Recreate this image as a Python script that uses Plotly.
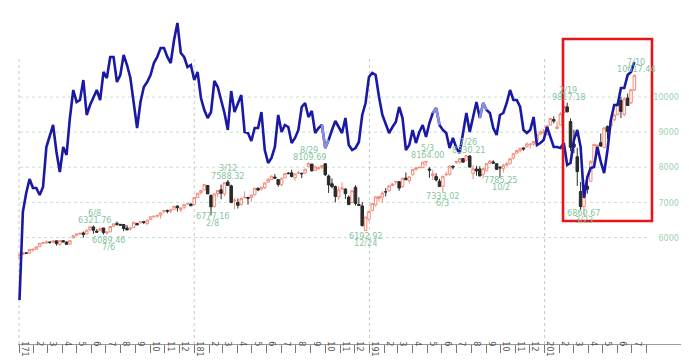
import plotly.graph_objects as go
import pandas as pd

# ---------------- data ----------------
week_start = "2017-01-02"   # weekly bars (week starting Monday)

open_ = [
    5425,5511,5560,5560,5651,5665,5740,5840,5845,5870,5868,5905,5800,5910,5870,5810,5990,6065,6103,6130,
    6100,6215,6300,6180,6195,6270,6130,6160,6320,6400,6375,6370,6270,6240,6285,6400,6420,6450,6400,6510,
    6590,6610,6640,6740,6770,6750,6800,6895,6790,6860,6960,6955,
    6938,7136,7275,7355,7480,7195,6880,7245,7360,7240,7580,7470,7040,7000,6940,7130,7140,7135,7215,7400,
    7380,7420,7575,7650,7720,7650,7505,7700,7830,7840,7700,7830,7830,7840,8020,8090,7910,7950,8000,8100,
    7750,7530,7450,7160,7380,7380,7150,7000,7430,6940,6900,6200,
    6520,6770,6930,7110,7150,7300,7330,7480,7580,7590,7450,7690,7620,7790,7940,7990,7990,8150,7950,7760,
    7740,7600,7460,7790,7800,8030,8140,8150,8250,8200,8320,7820,7950,7950,7800,7900,8110,8150,8100,8000,
    7960,8060,8100,8260,8400,8470,8550,8580,8650,8660,8760,8940,
    8970,8940,9200,9360,9100,9200,9560,9720,9300,8660,8300,7310,6880,7460,7600,8150,8590,8700,8560,9160,
    9180,9350,9500,9900,9500,9970,9840,10200,
]
high = [
    5536,5582,5575,5669,5669,5735,5839,5867,5911,5875,5914,5912,5915,5914,5888,5917,6075,6100,6125,6170,
    6213,6309,6342,6240,6280,6275,6175,6318,6392,6460,6380,6385,6355,6307,6436,6420,6450,6475,6496,6590,
    6611,6650,6708,6765,6795,6810,6890,6914,6855,6937,6995,6965,
    7137,7263,7344,7506,7487,7230,7260,7341,7505,7560,7637,7506,7120,7110,7146,7316,7160,7220,7405,7425,
    7445,7555,7697,7762,7806,7660,7696,7828,7866,7933,7814,7900,7840,7947,8133,8095,8041,8030,8050,8107,
    7790,7680,7480,7457,7570,7400,7200,7353,7486,7145,7010,6585,
    6740,6985,7170,7190,7320,7407,7473,7530,7600,7600,7700,7850,7730,7940,7985,8010,8147,8176,8000,7930,
    7830,7670,7760,7870,8050,8050,8170,8250,8260,8340,8340,8060,8040,8030,7980,8120,8200,8200,8110,8030,
    8100,8150,8250,8390,8480,8541,8570,8705,8670,8750,8930,9050,
    9093,9200,9390,9450,9310,9570,9740,9840,9390,9070,8550,7580,7640,7730,8200,8660,8640,8960,9130,9190,
    9380,9520,9850,10000,10000,10100,10220,10640,
]
low = [
    5410,5507,5532,5544,5590,5655,5730,5815,5825,5822,5845,5769,5770,5854,5805,5792,5985,6036,6071,5996,
    6094,6185,6110,6145,6182,6088,6087,6154,6318,6335,6330,6180,6208,6195,6281,6360,6405,6380,6351,6508,
    6573,6560,6540,6686,6690,6690,6795,6739,6717,6812,6935,6900,
    6924,7131,7223,7339,7240,6630,6855,7144,7090,7178,7463,6992,6805,6825,6910,7120,6937,7012,7195,7320,
    7340,7378,7574,7636,7670,7445,7463,7696,7797,7712,7620,7815,7690,7810,8000,7870,7890,7930,7950,7750,
    7270,7400,7000,7070,7350,7100,6920,6980,6910,6895,6330,6190,
    6457,6740,6880,7020,6980,7170,7300,7460,7500,7330,7420,7640,7530,7760,7900,7960,7970,8030,7700,7640,
    7600,7450,7290,7750,7760,7940,8090,8100,8140,8190,8000,7660,7760,7750,7680,7880,8100,8100,7920,7700,
    7850,8030,8090,8220,8390,8420,8470,8570,8530,8610,8750,8930,
    8940,8900,9190,9250,9090,9190,9540,9560,8460,8400,7470,6770,6630,7250,7580,8080,8440,8580,8540,8800,
    9170,9310,9470,9400,9450,9750,9800,10170,
]
close = [
    5521,5574,5555,5661,5667,5734,5839,5845,5871,5861,5901,5828,5912,5878,5805,5910,6048,6100,6121,6084,
    6210,6306,6208,6152,6265,6140,6153,6312,6388,6374,6352,6256,6217,6265,6435,6360,6448,6427,6496,6590,
    6606,6629,6701,6764,6751,6783,6890,6848,6840,6937,6960,6903,
    7136,7261,7336,7506,7241,6874,7239,7337,7258,7560,7482,6993,7063,6915,7107,7146,7120,7210,7403,7354,
    7434,7554,7646,7746,7692,7510,7689,7826,7821,7737,7812,7839,7816,7946,8110,7903,8010,7987,8046,7788,
    7497,7449,7167,7357,7407,7248,6939,7331,6969,6911,6333,6585,
    6739,6971,7157,7165,7264,7298,7472,7527,7595,7408,7688,7643,7729,7939,7985,7998,8146,8164,7917,7816,
    7637,7453,7742,7797,8032,8006,8162,8244,8146,8330,8004,7959,7896,7751,7963,8103,8176,8118,7940,7982,
    8057,8089,8243,8386,8475,8541,8520,8665,8657,8735,8925,9006,
    9021,9179,9389,9315,9151,9521,9731,9577,8567,8576,7875,6880,7502,7373,8154,8650,8634,8605,9121,9015,
    9325,9490,9815,9589,9946,9757,10208,10617,
]

# comparison series (relative level, no scale shown on the chart)
blue = [
    44,132,151,165,156,156,149,157,197,209,219,192,172,197,189,226,254,242,244,264,
    229,239,247,254,244,272,266,287,287,262,269,289,279,266,241,216,242,257,262,269,
    281,287,296,296,287,281,304,321,291,287,277,279,264,272,246,
    234,226,232,263,257,244,231,214,253,232,241,249,212,211,203,216,216,232,194,181,
    186,197,229,212,219,217,201,206,214,237,241,227,233,211,216,219,196,204,214,223,
    217,211,226,199,194,196,202,229,241,267,271,
    269,247,229,220,211,217,222,237,226,194,199,214,201,212,219,207,221,231,236,219,
    214,211,196,206,196,191,211,231,212,226,242,226,241,234,231,216,209,229,231,241,
    254,244,244,237,214,211,214,227,199,201,204,217,
    207,197,197,196,201,179,181,204,214,197,146,167,176,177,197,182,171,194,224,239,
    239,256,256,269,272,282,
]
blue_faded = [(90, 92), (123, 125), (137, 139)]   # week index ranges drawn lighter

high_dates = ["2017-06-08", "2018-03-12", "2018-08-29", "2019-05-03", "2019-07-26", "2020-02-19", "2020-07-10"]
high_values = [6321.76, 7588.32, 8109.69, 8164.00, 8330.21, 9817.18, 10617.44]
high_labels = ["6/8", "3/12", "8/29", "5/3", "7/26", "2/19", "7/10"]
low_dates = ["2017-07-06", "2018-02-08", "2018-12-24", "2019-06-03", "2019-10-02", "2020-03-23"]
low_values = [6089.46, 6777.16, 6192.92, 7333.02, 7785.25, 6860.67]
low_labels = ["7/6", "2/8", "12/24", "6/3", "10/2", "3/23"]

month_labels = ["171", "2", "3", "4", "5", "6", "7", "8", "9", "10", "11", "12",
                "181", "2", "3", "4", "5", "6", "7", "8", "9", "10", "11", "12",
                "191", "2", "3", "4", "5", "6", "7", "8", "9", "10", "11", "12",
                "201", "2", "3", "4", "5", "6", "7"]
price_ticks = [6000, 7000, 8000, 9000, 10000]
price_labels = ["6000", "7000", "8000", "9000", "10000"]
year_starts = ["2017-01-01", "2018-01-01", "2019-01-01", "2020-01-01"]

# ---------------- figure ----------------
weeks = pd.date_range(week_start, periods=len(close), freq="7D")
month_starts = pd.date_range("2017-01-01", periods=len(month_labels) + 1, freq="MS")
month_mids = [m + pd.Timedelta(days=15) for m in month_starts[:-1]]

FONT = "Liberation Sans Narrow, DejaVu Sans Condensed, Arial Narrow, sans-serif"
GREEN = "#86c4a0"
UP = "#f28a7a"
DOWN = "#2a2a2a"

fig = go.Figure()
fig.add_trace(go.Candlestick(
    x=weeks, open=open_, high=high, low=low, close=close,
    increasing=dict(line=dict(color=UP, width=1), fillcolor="white"),
    decreasing=dict(line=dict(color=DOWN, width=1), fillcolor=DOWN),
    whiskerwidth=0, showlegend=False, hoverinfo="skip",
))
fig.add_trace(go.Scatter(
    x=weeks, y=blue, yaxis="y2", mode="lines",
    line=dict(color="#1919a6", width=2.6), showlegend=False, hoverinfo="skip",
))
for a, b in blue_faded:
    fig.add_trace(go.Scatter(
        x=weeks[a:b + 1], y=blue[a:b + 1], yaxis="y2", mode="lines",
        line=dict(color="#8c8ce0", width=2.6), showlegend=False, hoverinfo="skip",
    ))

shapes = []
for v in price_ticks:
    shapes.append(dict(type="line", xref="paper", yref="y", x0=0.003, x1=0.952, y0=v, y1=v,
                       line=dict(color="#c4e2d2", width=1, dash="dot"), layer="below"))
for d in year_starts:
    shapes.append(dict(type="line", xref="x", yref="y", x0=d, x1=d, y0=2968, y1=11110,
                       line=dict(color="#c8c8c8", width=1, dash="dot"), layer="below"))
shapes.append(dict(type="rect", xref="paper", yref="paper", x0=0.8208, x1=0.9548, y0=0.3661, y1=0.9077,
                   line=dict(color="#e8141c", width=2.6), fillcolor="rgba(0,0,0,0)"))

annotations = []
for d, v, lab in zip(high_dates, high_values, high_labels):
    annotations.append(dict(x=d, y=v, text=f"{v:.2f}", showarrow=False, yshift=6,
                            font=dict(family=FONT, size=9, color=GREEN)))
    annotations.append(dict(x=d, y=v, text=lab, showarrow=False, yshift=13.5,
                            font=dict(family=FONT, size=9, color=GREEN)))
for d, v, lab in zip(low_dates, low_values, low_labels):
    annotations.append(dict(x=d, y=v, text=f"{v:.2f}", showarrow=False, yshift=-5.5,
                            font=dict(family=FONT, size=9, color=GREEN)))
    annotations.append(dict(x=d, y=v, text=lab, showarrow=False, yshift=-12.5,
                            font=dict(family=FONT, size=9, color=GREEN)))

# page body has an 8px margin, so the figure is sized to fit the window after it
fig.update_layout(
    width=681, height=353,
    margin=dict(l=10, r=7, t=0, b=17),
    paper_bgcolor="white", plot_bgcolor="white",
    font=dict(family=FONT),
    showlegend=False,
    boxgap=0.25, boxgroupgap=0,
    xaxis=dict(
        type="date", range=["2016-12-29 21:00", "2020-10-13 05:00"],
        rangeslider=dict(visible=False),
        showgrid=False, zeroline=False,
        showline=True, linecolor="#9a9a9a", linewidth=1,
        tickmode="array", tickvals=month_mids, ticktext=month_labels,
        ticks="", ticklabelstandoff=-10,
        tickfont=dict(family=FONT, size=9, color="#555555"),
        minor=dict(tickmode="array", tickvals=month_starts, ticks="outside",
                   ticklen=8, tickcolor="#777777", tickwidth=1, showgrid=False),
    ),
    yaxis=dict(
        range=[2968, 12534], side="right", ticklabelposition="inside",
        tickmode="array", tickvals=price_ticks, ticktext=price_labels,
        showgrid=False, zeroline=False, showline=False, ticks="",
        tickfont=dict(family=FONT, size=9, color="#9dd1b3"),
    ),
    yaxis2=dict(range=[0, 336], overlaying="y", visible=False),
    shapes=shapes,
    annotations=annotations,
)

fig.write_html("out.html")
